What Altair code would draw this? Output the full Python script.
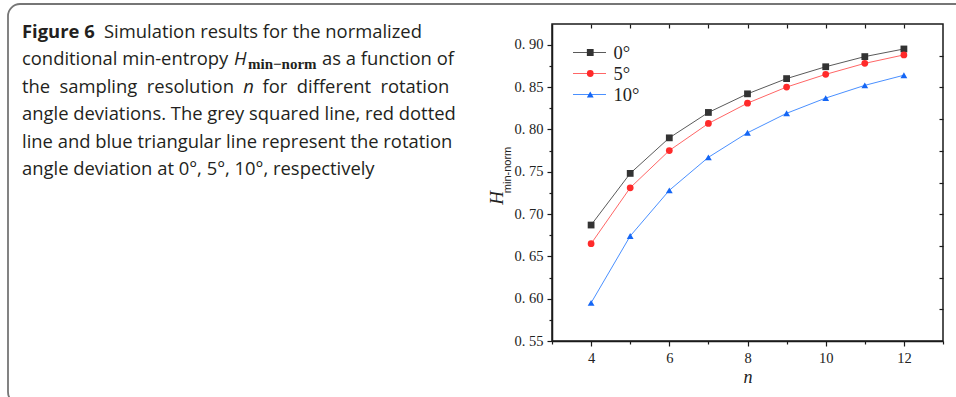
import altair as alt
import pandas as pd

# ---------------- data ----------------
n_values = [4, 5, 6, 7, 8, 9, 10, 11, 12]
h_0deg = [0.687, 0.748, 0.790, 0.820, 0.842, 0.860, 0.874, 0.886, 0.895]
h_5deg = [0.665, 0.731, 0.775, 0.807, 0.831, 0.850, 0.865, 0.878, 0.888]
h_10deg = [0.595, 0.674, 0.728, 0.767, 0.796, 0.819, 0.837, 0.852, 0.864]
series_labels = ["0°", "5°", "10°"]
series_keys = ["sq", "ci", "tr"]

x_major = [4, 6, 8, 10, 12]
x_minor = [3, 5, 7, 9, 11, 13]
x_top = [4, 5, 6, 7, 8, 9, 10, 11, 12]
y_major = [0.55, 0.60, 0.65, 0.70, 0.75, 0.80, 0.85, 0.90]
y_minor = [0.575, 0.625, 0.675, 0.725, 0.775, 0.825, 0.875]
right_ticks = [1, 2, 3, 4, 5, 6, 7, 8, 9]

caption_lines = [
    [("Figure 6", "bold"), ("Simulation results for the normalized", "regular")],
    [("conditional min-entropy", "regular"), ("H", "italic"), ("min\u2212norm", "sub"),
     ("as a function of", "regular")],
    [("the", "regular"), ("sampling", "regular"), ("resolution", "regular"), ("n", "italic"),
     ("for", "regular"), ("different", "regular"), ("rotation", "regular")],
    [("angle deviations. The grey squared line, red dotted", "regular")],
    [("line and blue triangular line represent the rotation", "regular")],
    [("angle deviation at 0°, 5°, 10°, respectively", "regular")],
]

# ---------------- layout ----------------
PL, PT = 552, 24          # plot-area origin in the page
W, H = 391, 317           # plot-area size
caption_x = [[22, 104],
             [22, 234, 248, 322],
             [22, 59.4, 146.8, 243.3, 262.6, 296.8, 380.4],
             [22], [22], [22]]
caption_y = [37.5, 65, 92.5, 120, 147.5, 175]

line_colors = ["#5a5a5a", "#ff6666", "#4a90ff"]
marker_colors = ["#333333", "#ff2a2a", "#1466f5"]
marker_shapes = ["square", "circle", "triangle-up"]

rows = []
for lab, key, vals in zip(series_labels, series_keys, [h_0deg, h_5deg, h_10deg]):
    for n, h in zip(n_values, vals):
        rows.append({"n": n, "H": h, "angle": lab, "key": key})
df = pd.DataFrame(rows)
one = pd.DataFrame({"k": [0]})

xscale = alt.Scale(domain=[3, 13], nice=False, zero=False)
yscale = alt.Scale(domain=[0.55, 0.9245], nice=False, zero=False)

LEG_X, LEG_Y = 20.5, 20.5

lines = alt.Chart(df).mark_line(strokeWidth=1).encode(
    x=alt.X("n:Q", scale=xscale,
            axis=alt.Axis(orient="bottom", values=x_major, format="d", tickSize=5,
                          labelPadding=5, title="n", titleFont="Liberation Serif",
                          titleFontStyle="italic", titleFontWeight="normal",
                          titleFontSize=18, titlePadding=4, titleColor="#222")),
    y=alt.Y("H:Q", scale=yscale,
            axis=alt.Axis(orient="left", values=y_major, tickSize=5, labelPadding=4,
                          labelExpr="replace(format(datum.value, '.2f'), '.', '. ')",
                          title=None)),
    stroke=alt.Stroke("angle:N", scale=alt.Scale(domain=series_labels, range=line_colors),
                      legend=alt.Legend(orient="none", legendX=LEG_X, legendY=LEG_Y, title=None,
                                        symbolType="stroke", symbolSize=1089,
                                        symbolStrokeWidth=1, clipHeight=16, rowPadding=2,
                                        padding=0, labelFont="Liberation Serif",
                                        labelFontSize=18.5, labelOffset=7, labelColor="#222")),
)

marker_legend = alt.Legend(orient="none", legendX=LEG_X, legendY=LEG_Y, title=None,
                           symbolSize=46, symbolOffset=8.5, clipHeight=16,
                           rowPadding=2, padding=0, labelFont="Liberation Serif",
                           labelFontSize=18.5, labelExpr="''")

points = alt.Chart(df).mark_point(filled=True, opacity=1, size=46).encode(
    x=alt.X("n:Q", scale=xscale, axis=None),
    y=alt.Y("H:Q", scale=yscale, axis=None),
    fill=alt.Fill("key:N", scale=alt.Scale(domain=series_keys, range=marker_colors),
                  legend=marker_legend),
    shape=alt.Shape("key:N", scale=alt.Scale(domain=series_keys, range=marker_shapes),
                    legend=marker_legend),
)

minor = alt.Chart(df).mark_point(opacity=0).encode(
    x=alt.X("n:Q", scale=xscale,
            axis=alt.Axis(orient="bottom", values=x_minor, tickSize=3, labels=False,
                          domain=False, title=None)),
    y=alt.Y("H:Q", scale=yscale,
            axis=alt.Axis(orient="left", values=y_minor, tickSize=3, labels=False,
                          domain=False, title=None)),
)

mirror = alt.Chart(df).mark_point(opacity=0).encode(
    x=alt.X("n:Q", scale=xscale,
            axis=alt.Axis(orient="top", values=x_top, tickSize=4, offset=-4, labels=False,
                          domain=False, title=None)),
    y=alt.Y("H:Q", scale=alt.Scale(domain=[0, 10], nice=False, zero=False),
            axis=alt.Axis(orient="right", values=right_ticks, tickSize=4, offset=-4,
                          labels=False, domain=False, title=None)),
)

frame = alt.Chart(one).mark_rect(cornerRadius=12, fill="transparent", stroke="#767676",
                                 strokeWidth=1.8).encode(
    x=alt.value(8 - PL), x2=alt.value(1010 - PL), y=alt.value(4 - PT), y2=alt.value(404 - PT))

FS = 18.4
styles = {
    "regular": dict(font="Open Sans", fontSize=FS, fontWeight="normal"),
    "bold": dict(font="Open Sans", fontSize=FS, fontWeight="bold"),
    "italic": dict(font="Open Sans", fontSize=FS, fontStyle="italic"),
    "sub": dict(font="Liberation Serif", fontSize=15, fontWeight="bold"),
}
caption_layers = []
for pieces, xs, yb in zip(caption_lines, caption_x, caption_y):
    for (txt, st), xx in zip(pieces, xs):
        dy = 4 if st == "sub" else 0
        caption_layers.append(
            alt.Chart(one).mark_text(text=txt, align="left", baseline="alphabetic",
                                     color="#231f20", **styles[st]).encode(
                x=alt.value(xx - PL), y=alt.value(yb + dy - PT)))

ytitle_h = alt.Chart(one).mark_text(text="H", angle=270, font="Liberation Serif",
                                    fontStyle="italic", fontSize=19, align="center",
                                    baseline="middle", color="#222").encode(
    x=alt.value(497 - PL), y=alt.value(198 - PT))
ytitle_sub = alt.Chart(one).mark_text(text="min-norm", angle=270, font="Liberation Sans",
                                      fontSize=11, align="center", baseline="middle",
                                      color="#222").encode(
    x=alt.value(508 - PL), y=alt.value(170 - PT))

chart = alt.layer(
    frame, *caption_layers, ytitle_h, ytitle_sub, minor, mirror, lines, points
).resolve_scale(y="independent").resolve_axis(x="independent", y="independent").properties(
    width=W, height=H,
    autosize=alt.AutoSizeParams(type="none"),
    padding={"left": PL, "top": PT, "right": 956 - PL - W, "bottom": 397 - PT - H},
    background="white",
).configure_view(stroke="#1a1a1a", strokeWidth=1.5).configure_axis(
    grid=False, domainColor="#1a1a1a", tickColor="#1a1a1a", domainWidth=1.5, tickWidth=1.2,
    labelFont="Liberation Serif", labelFontSize=14.5, labelColor="#222")

chart.save("out.html", embed_options={"renderer": "svg", "actions": False})
